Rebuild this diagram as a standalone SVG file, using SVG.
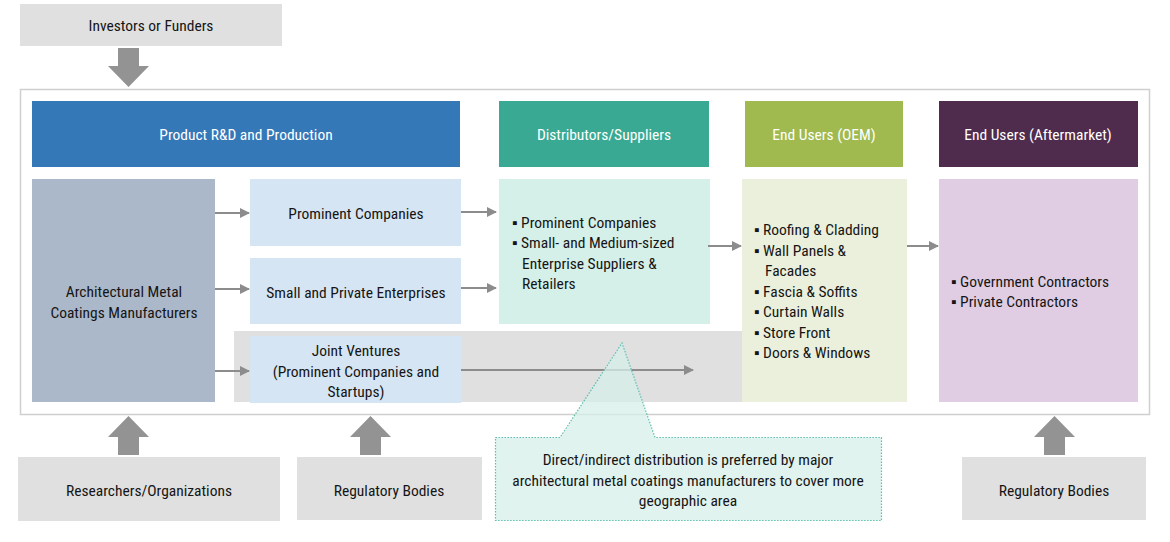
<svg xmlns="http://www.w3.org/2000/svg" width="1170" height="542" viewBox="0 0 1170 542">
<style>
text{font-family:"Liberation Sans Narrow","Roboto Condensed",Roboto,"Liberation Sans",sans-serif;font-size:15.5px;fill:#151515}
.c{text-anchor:middle}
.w{fill:#fff}
.grey{fill:#e0e0e0}
.conn{stroke:#8c8c8c;stroke-width:2;fill:none;marker-end:url(#ah)}
.big{fill:#939393}
</style>
<defs>
<marker id="ah" viewBox="0 0 10 10" refX="9" refY="5" markerWidth="5" markerHeight="5" orient="auto" markerUnits="strokeWidth"><path d="M0,0 L10,5 L0,10 z" fill="#8c8c8c"/></marker>
</defs>
<rect x="0" y="0" width="1170" height="542" fill="#fff"/>
<rect id="frame" x="20.5" y="89.5" width="1129" height="325" fill="#fff" stroke="#cfcfcf" stroke-width="1.5"/>
<g id="investors"><rect class="grey" x="20" y="4" width="262" height="42"/><text class="c" x="151" y="31">Investors or Funders</text></g>
<g id="bigarrows">
<path class="big" d="M118,48 H139 V66 H149 L128.5,87 L108,66 H118 Z"/>
<path class="big" d="M118,455 H139 V437 H149 L128.5,416 L108,437 H118 Z"/>
<path class="big" d="M360,455 H381 V437 H391 L370.5,416 L350,437 H360 Z"/>
<path class="big" d="M1044,455 H1065 V437 H1075 L1054.5,416 L1034,437 H1044 Z"/>
</g>
<g id="h-rd"><rect x="32" y="101" width="428" height="66" fill="#3578b8"/><text class="c w" x="246" y="140">Product R&amp;D and Production</text></g>
<g id="h-dist"><rect x="499" y="101" width="210" height="66" fill="#3aa993"/><text class="c w" x="604" y="140">Distributors/Suppliers</text></g>
<g id="h-oem"><rect x="745" y="101" width="158" height="66" fill="#a0ba4f"/><text class="c w" x="824" y="140">End Users (OEM)</text></g>
<g id="h-after"><rect x="939" y="101" width="199" height="66" fill="#4f2b4d"/><text class="c w" x="1038" y="140">End Users (Aftermarket)</text></g>
<rect id="band" class="grey" x="234" y="331" width="508" height="71"/>
<g id="manuf"><rect x="32" y="179" width="183" height="223" fill="#abb8c9"/><text class="c" x="124" y="297">Architectural Metal</text><text class="c" x="124" y="318">Coatings Manufacturers</text></g>
<g id="prominent"><rect x="250" y="179" width="211" height="67" fill="#d6e5f3"/><text class="c" x="356" y="219">Prominent Companies</text></g>
<g id="small"><rect x="250" y="258" width="211" height="66" fill="#d6e5f3"/><text class="c" x="356" y="298">Small and Private Enterprises</text></g>
<g id="jv"><rect x="250" y="336" width="211" height="67" fill="#d6e5f3"/><text class="c" x="356" y="356">Joint Ventures</text><text class="c" x="356" y="377">(Prominent Companies and</text><text class="c" x="356" y="397">Startups)</text></g>
<g id="dist"><rect x="499" y="179" width="211" height="145" fill="#d5efe9"/>
<text x="512" y="228">▪ Prominent Companies</text>
<text x="512" y="248">▪ Small- and Medium-sized</text>
<text x="522" y="269">Enterprise Suppliers &amp;</text>
<text x="522" y="289">Retailers</text></g>
<g id="oem"><rect x="742" y="179" width="165" height="223" fill="#ebf0dd"/>
<text x="754" y="235">▪ Roofing &amp; Cladding</text>
<text x="754" y="256">▪ Wall Panels &amp;</text>
<text x="765" y="276">Facades</text>
<text x="754" y="297">▪ Fascia &amp; Soffits</text>
<text x="754" y="317">▪ Curtain Walls</text>
<text x="754" y="338">▪ Store Front</text>
<text x="754" y="358">▪ Doors &amp; Windows</text></g>
<g id="after"><rect x="939" y="179" width="199" height="223" fill="#e0cde4"/>
<text x="951" y="287">▪ Government Contractors</text>
<text x="951" y="307">▪ Private Contractors</text></g>
<g id="connectors">
<line class="conn" x1="215" y1="213" x2="249" y2="213"/>
<line class="conn" x1="215" y1="289" x2="249" y2="289"/>
<line class="conn" x1="215" y1="371" x2="249" y2="371"/>
<line class="conn" x1="461" y1="212" x2="496" y2="212"/>
<line class="conn" x1="461" y1="288" x2="496" y2="288"/>
<line class="conn" x1="461" y1="370" x2="693" y2="370"/>
<line class="conn" x1="708" y1="246" x2="741" y2="246"/>
<line class="conn" x1="907" y1="246" x2="938" y2="246"/>
</g>
<g id="callout">
<path d="M495.5,437.5 H560 L622,343 L655,437.5 H881.5 V520.5 H495.5 Z" fill="#d5efe9" fill-opacity="0.75" stroke="#5cbfae" stroke-width="1.2" stroke-dasharray="1.5,1.5"/>
<text class="c" x="688" y="465">Direct/indirect distribution is preferred by major</text>
<text class="c" x="688" y="486">architectural metal coatings manufacturers to cover more</text>
<text class="c" x="688" y="506">geographic area</text>
</g>
<g id="researchers"><rect class="grey" x="18" y="457" width="262" height="64"/><text class="c" x="149" y="496">Researchers/Organizations</text></g>
<g id="reg1"><rect class="grey" x="297" y="457" width="185" height="63"/><text class="c" x="389" y="496">Regulatory Bodies</text></g>
<g id="reg2"><rect class="grey" x="962" y="457" width="184" height="63"/><text class="c" x="1054" y="496">Regulatory Bodies</text></g>
</svg>
